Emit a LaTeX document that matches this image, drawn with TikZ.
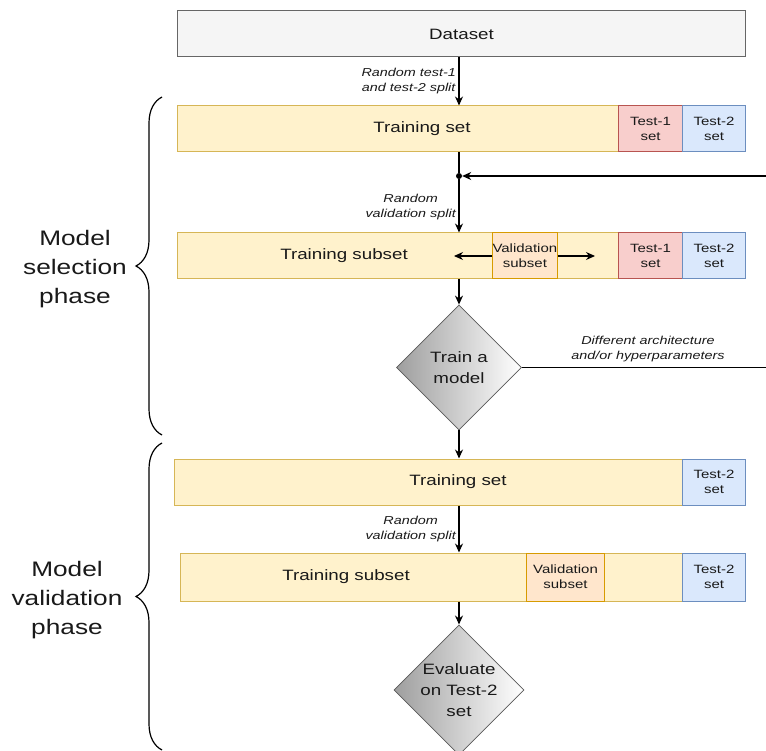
\documentclass[tikz,border=0pt]{standalone}
\usepackage{fontspec}
\setmainfont{Liberation Sans}[FakeStretch=1.25]
\usetikzlibrary{shapes.geometric,arrows.meta,decorations.pathreplacing}
\definecolor{greyfill}{HTML}{F5F5F5}
\definecolor{greyline}{HTML}{666666}
\definecolor{yelfill}{HTML}{FFF2CC}
\definecolor{yelline}{HTML}{D6B656}
\definecolor{redfill}{HTML}{F8CECC}
\definecolor{redline}{HTML}{B85450}
\definecolor{bluefill}{HTML}{DAE8FC}
\definecolor{blueline}{HTML}{6C8EBF}
\definecolor{orfill}{HTML}{FFE6CC}
\definecolor{orline}{HTML}{D79B00}
\begin{document}
\begin{tikzpicture}[x=1pt,y=-1pt,
  every node/.style={inner sep=0pt, text=black!90},
  big/.style={font=\fontsize{15}{19}\selectfont},
  small/.style={font=\fontsize{12}{15}\selectfont, align=center},
  note/.style={font=\fontsize{11.5}{15.5}\selectfont\itshape, align=center},
  phase/.style={font=\fontsize{21}{29}\selectfont, align=center},
  box/.style={draw, line width=1pt, minimum height=46pt, anchor=west},
  greybox/.style={box, draw=greyline, fill=greyfill, big},
  yelbox/.style={box, draw=yelline, fill=yelfill},
  redbox/.style={box, draw=redline, fill=redfill, small, minimum width=64pt},
  bluebox/.style={box, draw=blueline, fill=bluefill, small, minimum width=63pt},
  valbox/.style={box, draw=orline, fill=orfill, small},
  decision/.style={diamond, draw=black!65, line width=0.8pt, aspect=1,
    minimum width=125pt, minimum height=125pt, left color=black!38,
    right color=white, align=center, font=\fontsize{15}{21}\selectfont},
  arr/.style={line width=1.2pt, -{Stealth[length=9pt,width=8pt]}},
  line/.style={line width=1.2pt}]
  \useasboundingbox (0,0) rectangle (766,751);
  \coordinate (mid) at (459,0);

  \node[greybox, minimum width=568pt] (data) at (177,34) {Dataset};

  \node[yelbox, minimum width=441pt] (set1) at (177,129) {};
  \node[big] (set1t) at (422,129) {Training set};
  \node[redbox] (tA1) at (618,129) {Test-1\\set};
  \node[bluebox] (tB1) at (682,129) {Test-2\\set};

  \node[yelbox, minimum width=441pt] (sub1) at (177,256) {};
  \node[big] (sub1t) at (344,256) {Training subset};
  \node[valbox, minimum width=63pt] (val1) at (492,256) {Validation\\subset};
  \node[redbox] (tA2) at (618,256) {Test-1\\set};
  \node[bluebox] (tB2) at (682,256) {Test-2\\set};

  \node[decision] (train) at (459,367.5) {Train a\\model};

  \node[yelbox, minimum width=508pt] (set2) at (174,482) {};
  \node[big] (set2t) at (458,482) {Training set};
  \node[bluebox] (tB3) at (682,482) {Test-2\\set};

  \node[yelbox, minimum width=502pt, minimum height=48pt] (sub2) at (180,577) {};
  \node[big] (sub2t) at (346,577) {Training subset};
  \node[valbox, minimum width=78pt, minimum height=48pt] (val2) at (526,577) {Validation\\subset};
  \node[bluebox, minimum height=48pt] (tB4) at (682,577) {Test-2\\set};

  \node[decision] (eval) at (459,690) {Evaluate\\on Test-2\\set};

  \node[circle, fill, minimum size=6pt] (dot) at (459,176) {};
  \coordinate (loopR) at (790,367.5);
  \coordinate (vl) at (454,256);
  \coordinate (vr) at (595,256);

  \draw[arr] (data.south -| mid) -- (set1.north -| mid);
  \node[note, anchor=east] (lab1) at (456,81) {Random test-1\\and test-2 split};
  \draw[line] (set1.south -| mid) -- (dot);
  \draw[arr] (dot) -- (sub1.north -| mid);
  \node[note, anchor=east] (lab2) at (456,207) {Random\\validation split};
  \draw[arr] (val1.west) -- (vl);
  \draw[arr] (val1.east) -- (vr);
  \draw[arr] (sub1.south -| mid) -- (train.north);
  \draw[arr] (train.east) -- (loopR) |- (dot);
  \node[note] (lab3) at (648,349) {Different architecture\\and/or hyperparameters};
  \draw[arr] (train.south) -- (set2.north -| mid);
  \draw[arr] (set2.south -| mid) -- (sub2.north -| mid);
  \node[note, anchor=east] (lab4) at (456,529) {Random\\validation split};
  \draw[arr] (sub2.south -| mid) -- (eval.north);

  \draw[line, decorate, decoration={brace, amplitude=26pt}] (162,435) -- (162,97);
  \draw[line, decorate, decoration={brace, amplitude=26pt}] (162,750) -- (162,443);
  \node[phase] (sel) at (75,269) {Model\\selection\\phase};
  \node[phase] (valp) at (67,600) {Model\\validation\\phase};
\end{tikzpicture}
\end{document}
